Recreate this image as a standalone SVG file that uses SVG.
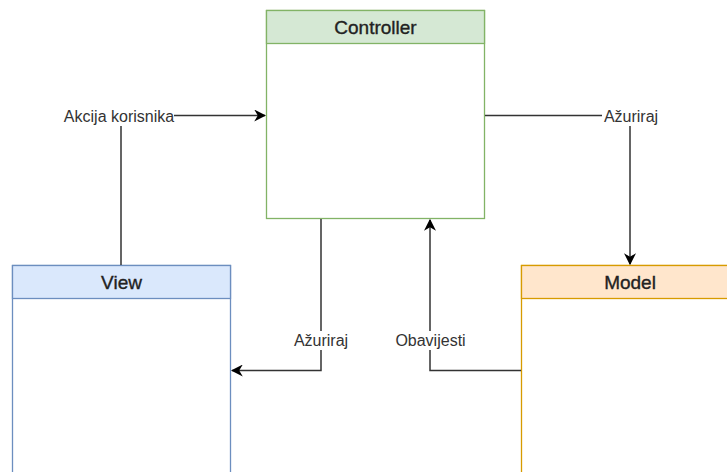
<svg xmlns="http://www.w3.org/2000/svg" width="727" height="472" viewBox="0 0 727 472">
<defs>
<marker id="arr" viewBox="0 0 10 10" refX="9" refY="5" markerWidth="12" markerHeight="12" markerUnits="userSpaceOnUse" orient="auto">
<path d="M0,0 L10,5 L0,10 L3,5 Z" fill="#000"/>
</marker>
</defs>
<style>
.title{font-family:"Liberation Sans",Arial,sans-serif;font-size:19px;fill:#222;stroke:#222;stroke-width:0.35;text-anchor:middle}
.lbl{font-family:"Liberation Sans",Arial,sans-serif;font-size:16px;fill:#333;text-anchor:middle}
.edge{fill:none;stroke:#333;stroke-width:1.5}
.bg{fill:#fff}
</style>
<rect width="727" height="472" fill="#fff"/>
<g id="controller">
<rect x="266.5" y="10.5" width="218" height="208" fill="#fff" stroke="#82b366" stroke-width="1.3"/>
<rect x="266.5" y="10.5" width="218" height="33" fill="#d5e8d4" stroke="#82b366" stroke-width="1.3"/>
<text class="title" x="375.5" y="34">Controller</text>
</g>
<g id="view">
<rect x="12.5" y="265.5" width="218" height="220" fill="#fff" stroke="#6c8ebf" stroke-width="1.3"/>
<rect x="12.5" y="265.5" width="218" height="33" fill="#dae8fc" stroke="#6c8ebf" stroke-width="1.3"/>
<text class="title" x="121.5" y="289">View</text>
</g>
<g id="model">
<rect x="521.5" y="265.5" width="218" height="220" fill="#fff" stroke="#d79b00" stroke-width="1.3"/>
<rect x="521.5" y="265.5" width="218" height="33" fill="#ffe6cc" stroke="#d79b00" stroke-width="1.3"/>
<text class="title" x="630" y="289">Model</text>
</g>
<g id="connectors">
<path class="edge" d="M121,265 V115.5 H265" marker-end="url(#arr)"/>
<path class="edge" d="M485,115.5 H630 V264" marker-end="url(#arr)"/>
<path class="edge" d="M321,219 V370.5 H232" marker-end="url(#arr)"/>
<path class="edge" d="M521,370.5 H430 V220" marker-end="url(#arr)"/>
<rect class="bg" x="64" y="107" width="110" height="19"/>
<text class="lbl" x="119" y="122">Akcija korisnika</text>
<rect class="bg" x="602" y="107" width="58" height="19"/>
<text class="lbl" x="631" y="122">Ažuriraj</text>
<rect class="bg" x="292" y="331" width="58" height="19"/>
<text class="lbl" x="321" y="346">Ažuriraj</text>
<rect class="bg" x="393" y="331" width="75" height="19"/>
<text class="lbl" x="430.5" y="346">Obavijesti</text>
</g>
</svg>
